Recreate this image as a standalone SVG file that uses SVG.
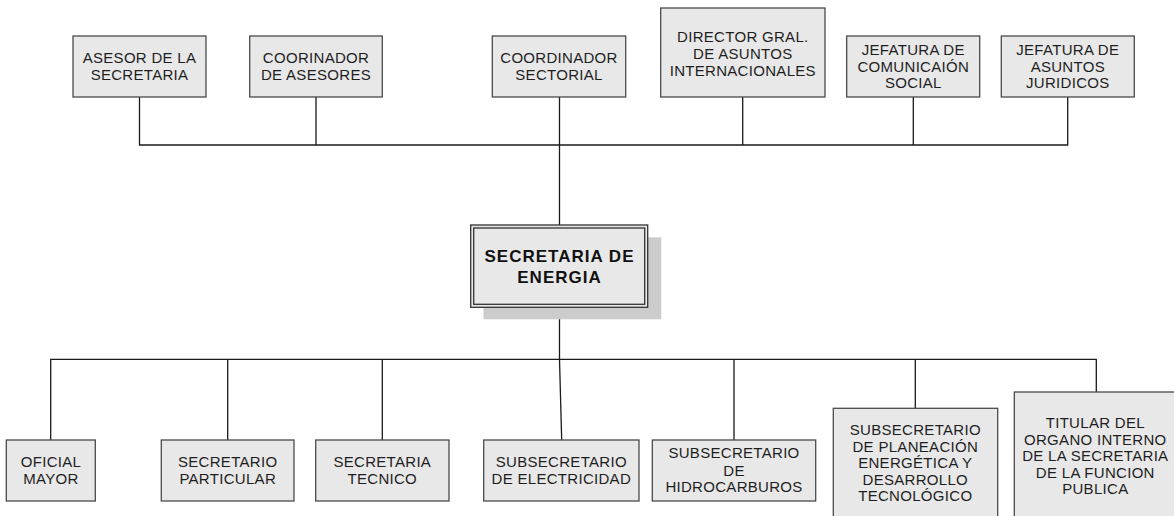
<svg xmlns="http://www.w3.org/2000/svg" width="1174" height="516" viewBox="0 0 1174 516">
<style>
.box{fill:#e8e8e8;stroke:#4a4a4a;stroke-width:1.3}
.t{font-family:"Liberation Sans",Arial,sans-serif;font-size:15px;fill:#1e1e1e;text-anchor:middle;letter-spacing:0.3px}
.tb{font-family:"Liberation Sans",Arial,sans-serif;font-size:17px;font-weight:bold;fill:#111;text-anchor:middle;letter-spacing:1px}
.ln{fill:none;stroke:#1a1a1a;stroke-width:1.3}
</style>
<rect width="1174" height="516" fill="#ffffff"/>
<g id="connectors">
<polyline class="ln" points="139.5,97 139.5,145 1067.7,145 1067.7,97"/>
<line class="ln" x1="316" y1="97" x2="316" y2="145"/>
<line class="ln" x1="559.5" y1="97" x2="559.5" y2="225"/>
<line class="ln" x1="742.7" y1="97" x2="742.7" y2="145"/>
<line class="ln" x1="913.3" y1="97" x2="913.3" y2="145"/>
<polyline class="ln" points="50.7,440 50.7,359.3 1096.3,359.3 1096.3,392"/>
<line class="ln" x1="559.5" y1="307" x2="559.5" y2="359.3"/>
<line class="ln" x1="559.5" y1="359.3" x2="561.7" y2="440"/>
<line class="ln" x1="227.7" y1="359.3" x2="227.7" y2="440"/>
<line class="ln" x1="382.3" y1="359.3" x2="382.3" y2="440"/>
<line class="ln" x1="734" y1="359.3" x2="734" y2="440"/>
<line class="ln" x1="915.3" y1="359.3" x2="915.3" y2="408.3"/>
</g>
<g id="asesor">
<rect class="box" x="73" y="36" width="133" height="61"/>
<text class="t" x="139.5" y="62.7">ASESOR DE LA</text>
<text class="t" x="139.5" y="79.5">SECRETARIA</text>
</g>
<g id="coorinador">
<rect class="box" x="249.7" y="36" width="132.6" height="61"/>
<text class="t" x="316" y="62.7">COORINADOR</text>
<text class="t" x="316" y="79.5">DE ASESORES</text>
</g>
<g id="coordinador-sectorial">
<rect class="box" x="492.3" y="36" width="133.4" height="61"/>
<text class="t" x="559" y="62.7">COORDINADOR</text>
<text class="t" x="559" y="79.5">SECTORIAL</text>
</g>
<g id="director">
<rect class="box" x="660.7" y="8" width="164.3" height="89"/>
<text class="t" x="742.8" y="41.7">DIRECTOR GRAL.</text>
<text class="t" x="742.8" y="58.8">DE ASUNTOS</text>
<text class="t" x="742.8" y="75.8">INTERNACIONALES</text>
</g>
<g id="jefatura-comunicacion">
<rect class="box" x="846.7" y="36" width="133" height="61"/>
<text class="t" x="913.3" y="55">JEFATURA DE</text>
<text class="t" x="913.3" y="71.7">COMUNICAIÓN</text>
<text class="t" x="913.3" y="88.3">SOCIAL</text>
</g>
<g id="jefatura-juridicos">
<rect class="box" x="1001.3" y="36" width="133" height="61"/>
<text class="t" x="1067.8" y="55">JEFATURA DE</text>
<text class="t" x="1067.8" y="71.7">ASUNTOS</text>
<text class="t" x="1067.8" y="88.3">JURIDICOS</text>
</g>
<g id="secretaria-energia">
<rect x="483.5" y="237.3" width="177.8" height="82" fill="#cccccc"/>
<rect x="470.7" y="225" width="177" height="82.3" fill="#e8e8e8" stroke="#333" stroke-width="1.3"/>
<rect x="473.7" y="228" width="171" height="76.3" fill="none" stroke="#333" stroke-width="1.3"/>
<text class="tb" x="559.5" y="262.3">SECRETARIA DE</text>
<text class="tb" x="559.5" y="282.7">ENERGIA</text>
</g>
<g id="oficial-mayor">
<rect class="box" x="6.3" y="440" width="89" height="61"/>
<text class="t" x="51" y="466.7">OFICIAL</text>
<text class="t" x="51" y="484.3">MAYOR</text>
</g>
<g id="secretario-particular">
<rect class="box" x="161.3" y="440" width="132.7" height="61"/>
<text class="t" x="227.7" y="466.7">SECRETARIO</text>
<text class="t" x="227.7" y="484.3">PARTICULAR</text>
</g>
<g id="secretaria-tecnico">
<rect class="box" x="315.7" y="440" width="133.3" height="61"/>
<text class="t" x="382.3" y="466.7">SECRETARIA</text>
<text class="t" x="382.3" y="484.3">TECNICO</text>
</g>
<g id="subsec-electricidad">
<rect class="box" x="483.7" y="440" width="155.3" height="61"/>
<text class="t" x="561.3" y="466.7">SUBSECRETARIO</text>
<text class="t" x="561.3" y="484.3">DE ELECTRICIDAD</text>
</g>
<g id="subsec-hidrocarburos">
<rect class="box" x="652.3" y="440" width="163.4" height="61"/>
<text class="t" x="734" y="458.3">SUBSECRETARIO</text>
<text class="t" x="734" y="475.5">DE</text>
<text class="t" x="734" y="492.3">HIDROCARBUROS</text>
</g>
<g id="subsec-planeacion">
<rect class="box" x="833.3" y="408.3" width="164.4" height="115"/>
<text class="t" x="915.3" y="435">SUBSECRETARIO</text>
<text class="t" x="915.3" y="451.5">DE PLANEACIÓN</text>
<text class="t" x="915.3" y="468">ENERGÉTICA Y</text>
<text class="t" x="915.3" y="484.5">DESARROLLO</text>
<text class="t" x="915.3" y="501">TECNOLÓGICO</text>
</g>
<g id="titular-organo">
<rect class="box" x="1014.3" y="392" width="163" height="131"/>
<text class="t" x="1095.3" y="428.3">TITULAR DEL</text>
<text class="t" x="1095.3" y="444.8">ORGANO INTERNO</text>
<text class="t" x="1095.3" y="461.3">DE LA SECRETARIA</text>
<text class="t" x="1095.3" y="477.8">DE LA FUNCION</text>
<text class="t" x="1095.3" y="494.3">PUBLICA</text>
</g>
</svg>
